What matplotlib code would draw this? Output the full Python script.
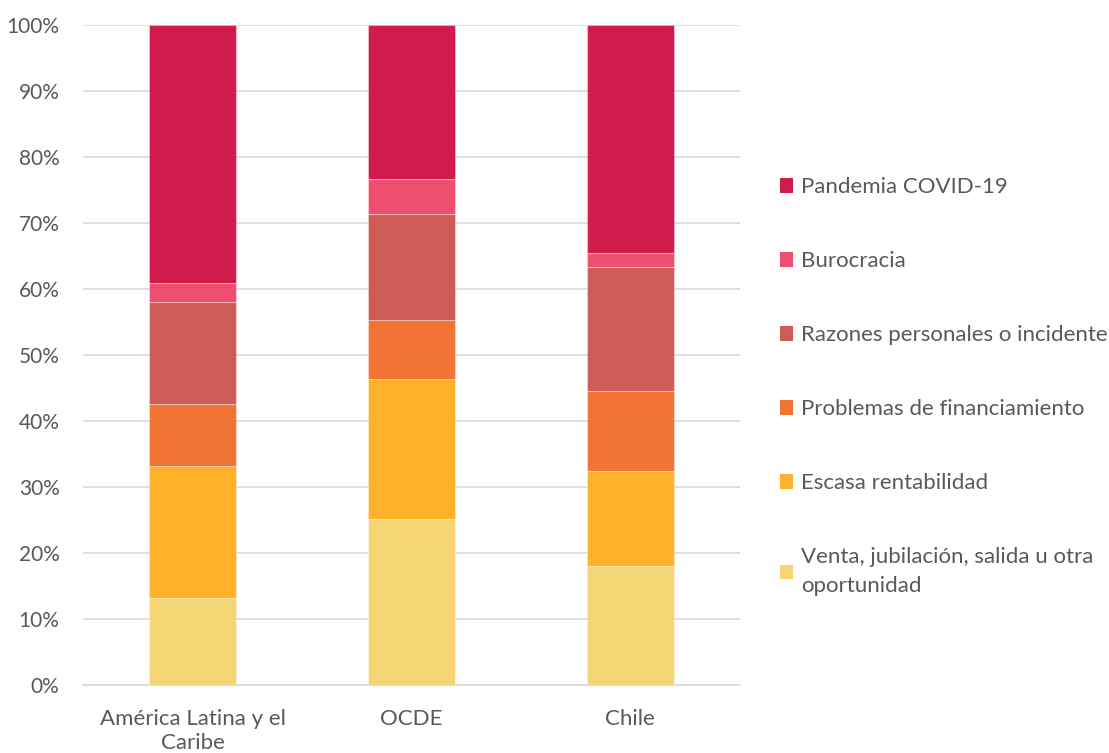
import matplotlib
matplotlib.use("Agg")
import matplotlib.pyplot as plt
import numpy as np
from matplotlib.patches import Patch

categories = ["América Latina y el\nCaribe", "OCDE", "Chile"]
series_names = ["Venta, jubilación, salida u otra\noportunidad", "Escasa rentabilidad",
                "Problemas de financiamiento", "Razones personales o incidente",
                "Burocracia", "Pandemia COVID-19"]
venta = [13.2, 25.2, 18.0]
escasa = [20.0, 21.2, 14.4]
problemas = [9.4, 8.9, 12.1]
razones = [15.4, 16.1, 18.8]
burocracia = [2.9, 5.3, 2.2]
pandemia = [39.1, 23.3, 34.5]
colors = ["#F5D574", "#FDB22A", "#F27435", "#CE5B55", "#EF4F6F", "#D11B4C"]

plt.rcParams['font.family'] = ['Lato', 'DejaVu Sans']

fig = plt.figure(figsize=(11.09, 7.53), dpi=100)
ax = fig.add_axes([0.075, 0.0903, 0.592, 0.8765])

data = [venta, escasa, problemas, razones, burocracia, pandemia]
x = np.arange(len(categories))
bottom = np.zeros(len(categories))
for vals, c, name in zip(data, colors, series_names):
    ax.bar(x, vals, 0.4, bottom=bottom, color=c, edgecolor=(1, 1, 1, 0.35), linewidth=0.8, zorder=3, label=name)
    bottom += np.array(vals)

ax.set_xlim(-0.5, 2.5)
ax.set_ylim(0, 100)
ax.set_yticks(np.arange(0, 101, 10))
ax.set_yticklabels([f"{v}%" for v in range(0, 101, 10)])
ax.set_xticks(x)
ax.set_xticklabels(categories, linespacing=1.3)
ax.grid(axis='y', color='#D9D9D9', linewidth=1.2, zorder=0)
for s in ['top', 'right', 'left']:
    ax.spines[s].set_visible(False)
ax.spines['bottom'].set_color('#D9D9D9')
ax.spines['bottom'].set_linewidth(1.2)
ax.tick_params(axis='both', length=0, labelsize=16, colors='#595959')
ax.tick_params(axis='y', labelsize=15, pad=17)
ax.tick_params(axis='x', pad=17)

handles = [Patch(facecolor=c, edgecolor='none') for c in colors[::-1]]
leg = fig.legend(handles, series_names[::-1], loc='upper left', bbox_to_anchor=(0.685, 0.791),
                 frameon=False, fontsize=16, handlelength=0.6, handleheight=0.6,
                 handletextpad=0.35, labelspacing=2.43, labelcolor='#595959')
for t in leg.get_texts():
    t.set_linespacing(1.55)

fig.savefig("out.png", dpi=100)
